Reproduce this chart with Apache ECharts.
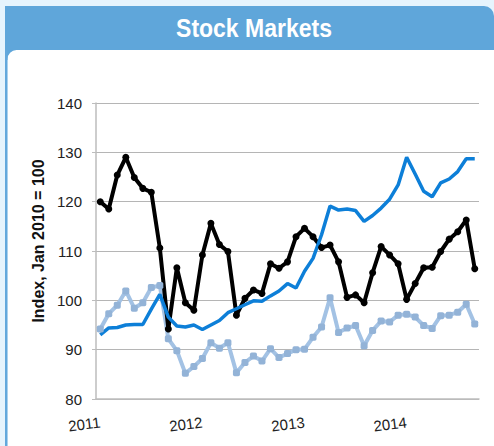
<!DOCTYPE html>
<html>
<head>
<meta charset="utf-8">
<script src="https://cdn.jsdelivr.net/npm/echarts@6/dist/echarts.min.js"></script>
<style>
  html, body { margin: 0; padding: 0; background: #e6f4fd; }
  #chart { width: 494px; height: 446px; }
</style>
</head>
<body>
<div id="chart"></div>
<script>
// monthly points, Jan 2011 .. Sep 2014
const years = ["2011", "2012", "2013", "2014"];
const months = [];
years.forEach(y => {
  for (let m = 1; m <= 12; m++) months.push(y + "-" + (m < 10 ? "0" + m : m));
});
const categories = months.slice(0, 45);

const blackLine = [120.0, 118.5, 125.4, 129.0, 124.9, 122.7, 121.9, 110.6, 94.2, 106.6,
  99.5, 98.0, 109.2, 115.6, 111.3, 109.9, 97.0, 100.4, 102.1, 101.4,
  107.4, 106.5, 107.8, 112.9, 114.6, 112.9, 110.7, 111.2, 107.8, 100.6,
  101.1, 99.5, 105.6, 110.9, 109.2, 107.4, 100.2, 103.4, 106.6, 106.7,
  109.9, 112.4, 113.9, 116.3, 106.4];

const blueLine = [93.0, 94.4, 94.5, 95.0, 95.1, 95.1, 98.2, 101.2, 96.6, 94.8,
  94.6, 95.0, 94.1, 95.0, 95.9, 97.5, 98.3, 99.1, 99.9, 99.8,
  100.9, 101.9, 103.4, 102.5, 105.9, 108.5, 113.3, 119.1, 118.3, 118.5,
  118.2, 116.0, 117.2, 118.7, 120.5, 123.4, 129.0, 125.6, 122.1, 121.0,
  123.8, 124.6, 126.1, 128.7, 128.7];

const lightLine = [94.2, 97.3, 99.0, 101.9, 98.4, 99.5, 102.6, 103.0, 92.2, 89.8,
  85.2, 86.6, 88.2, 91.4, 90.3, 91.4, 85.3, 87.4, 88.7, 87.7,
  90.2, 88.4, 89.2, 90.0, 90.1, 92.5, 94.6, 100.5, 93.5, 94.4,
  94.9, 90.8, 93.9, 95.8, 95.6, 97.0, 97.2, 96.6, 94.9, 94.3,
  96.9, 97.0, 97.6, 99.2, 95.2];

const font = "Liberation Sans, Arial, sans-serif";

let myChart = echarts.init(document.getElementById("chart"), null, { renderer: "svg" });

let option = {
  backgroundColor: "#e6f4fd",
  animation: false,
  graphic: [
    // white panel + header bar
    { type: "rect", z: -10, shape: { x: 5, y: 36, width: 24, height: 24 }, style: { fill: "#5fa6da" } },
    { type: "rect", z: -9, shape: { x: 7.5, y: 50, width: 500, height: 410, r: [9, 0, 0, 0] }, style: { fill: "#ffffff" } },
    { type: "rect", z: -9, shape: { x: 5, y: 6, width: 2.5, height: 440 }, style: { fill: "#63a8dc" } },
    { type: "rect", z: -9, shape: { x: 5, y: 6, width: 489, height: 44, r: [0, 10, 0, 0] }, style: { fill: "#5fa6da" } },
    {
      // title squeezed a bit, the original uses a condensed face
      type: "text", z: 10, x: 254, y: 28, scaleX: 0.92,
      style: {
        text: "Stock Markets", fill: "#ffffff",
        font: "bold 25px Liberation Sans, Arial, sans-serif",
        align: "center", verticalAlign: "middle"
      }
    }
  ],
  grid: { left: 96, right: 15, top: 103, height: 296, containLabel: false },
  xAxis: {
    type: "category",
    data: categories,
    boundaryGap: true,
    axisLine: { lineStyle: { color: "#bdbdbd", width: 1.5 } },
    axisTick: { interval: 11, length: 3, lineStyle: { color: "#bdbdbd" } },
    axisLabel: {
      interval: 11, rotate: 7, margin: 23,
      fontSize: 15, color: "#222", fontFamily: font,
      formatter: v => v.slice(0, 4)
    },
    splitLine: { show: false }
  },
  yAxis: {
    type: "value",
    min: 80, max: 140, interval: 10,
    name: "Index, Jan 2010 = 100",
    nameLocation: "middle",
    nameGap: 47,
    nameTextStyle: { fontSize: 16, fontWeight: "bold", color: "#111", fontFamily: font, padding: [0, 0, 0, 20] },
    axisLine: { show: true, lineStyle: { color: "#bdbdbd", width: 1.5 } },
    axisTick: { show: true, length: 4, lineStyle: { color: "#bdbdbd" } },
    axisLabel: { fontSize: 15, color: "#222", margin: 14, fontFamily: font },
    splitLine: { lineStyle: { color: "#b5b5b5", width: 1.2 } }
  },
  series: [
    {
      name: "light",
      type: "line",
      data: lightLine,
      showAllSymbol: true,
      symbol: "roundRect",
      symbolSize: 7,
      itemStyle: { color: "#93b3d7" },
      lineStyle: { color: "#a3c2e4", width: 4 }
    },
    {
      name: "black",
      type: "line",
      data: blackLine,
      showAllSymbol: true,
      symbol: "circle",
      symbolSize: 7,
      itemStyle: { color: "#000" },
      lineStyle: { color: "#000", width: 4 }
    },
    {
      name: "blue",
      type: "line",
      data: blueLine,
      symbol: "none",
      lineStyle: { color: "#0d7fd8", width: 3.5 }
    }
  ]
};
myChart.setOption(option);
</script>
</body>
</html>
